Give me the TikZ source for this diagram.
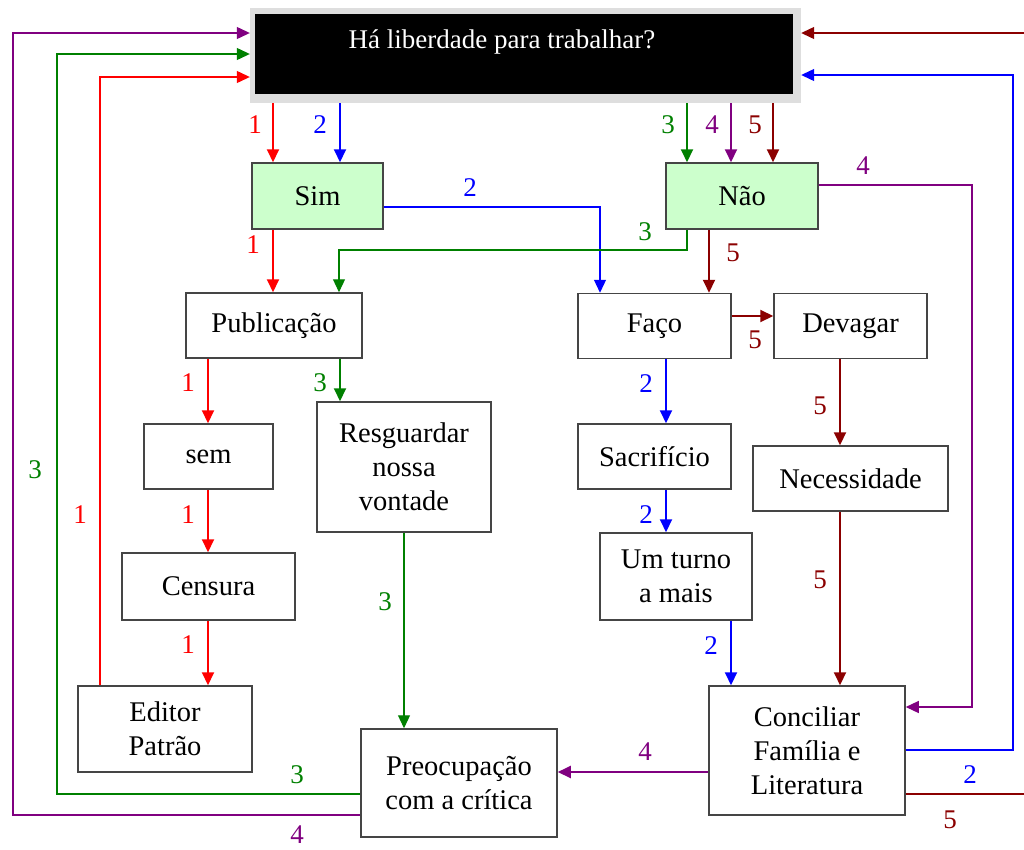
\documentclass[tikz,border=0pt]{standalone}
\usepackage{fontspec}
\setmainfont{Liberation Serif}
\usetikzlibrary{arrows.meta}

\definecolor{boxline}{HTML}{454545}
\definecolor{boxgreen}{HTML}{CCFFCC}
\definecolor{cred}{HTML}{FF0000}
\definecolor{cblue}{HTML}{0000FF}
\definecolor{cgreen}{HTML}{008000}
\definecolor{cpurple}{HTML}{800080}
\definecolor{cdark}{HTML}{8B0000}
\definecolor{frame}{HTML}{DEDEDE}

\begin{document}
\begin{tikzpicture}[x=1pt,y=-1pt,
  box/.style={draw=boxline, line width=1.5pt, fill=white, inner sep=0pt,
    align=center, font=\fontsize{28.5}{34}\selectfont},
  greenbox/.style={box, fill=boxgreen},
  arr/.style={line width=2pt, -{Triangle[length=13pt,width=12pt]}},
  wire/.style={line width=1.2pt},
  warr/.style={line width=1.2pt, -{Triangle[length=13pt,width=12pt]}},
  num/.style={font=\fontsize{27}{30}\selectfont, inner sep=0pt}]

\useasboundingbox (0,0) rectangle (1024,849);

% question box: grey frame with black panel
\node[fill=frame, inner sep=0pt, minimum width=551pt, minimum height=95pt] (title) at (525.5,55.5) {};
\fill[black] ([shift={(5,6)}]title.north west) rectangle ([shift={(-8,-9)}]title.south east);
\node[text=white, font=\fontsize{27}{30}\selectfont, inner sep=0pt] (titletext) at (502,42) {Há liberdade para trabalhar?};

% boxes
\node[greenbox, minimum width=131pt, minimum height=66pt] (sim) at (317.5,196) {Sim};
\node[greenbox, minimum width=152pt, minimum height=66pt] (nao) at (742,196) {Não};
\node[box, minimum width=176pt, minimum height=65pt] (pub) at (274,325.5) {Publicação};
\node[box, minimum width=153pt, minimum height=65pt] (faco) at (654.5,326) {Faço};
\node[box, minimum width=153pt, minimum height=65pt] (devagar) at (850.5,326) {Devagar};
\node[box, minimum width=129pt, minimum height=65pt] (sem) at (208.5,456.5) {sem};
\node[box, minimum width=174pt, minimum height=130pt] (resg) at (404,467) {Resguardar\\nossa\\vontade};
\node[box, minimum width=153pt, minimum height=65pt] (sacr) at (654.5,456.5) {Sacrifício};
\node[box, minimum width=195pt, minimum height=65pt] (neces) at (850.5,478.5) {Necessidade};
\node[box, minimum width=173pt, minimum height=67pt] (censura) at (208.5,586.5) {Censura};
\node[box, minimum width=152pt, minimum height=87pt] (turno) at (676,576.5) {Um turno\\a mais};
\node[box, minimum width=174pt, minimum height=86pt] (editor) at (165,729) {Editor\\Patrão};
\node[box, minimum width=196pt, minimum height=129pt] (concil) at (807,750.5) {Conciliar\\Família e\\Literatura};
\node[box, minimum width=196pt, minimum height=108pt] (preoc) at (459,783) {Preocupação\\com a crítica};

% column and row guides for the connectors
\coordinate (x13) at (13,0);   \coordinate (x57) at (57,0);
\coordinate (x100) at (100,0); \coordinate (x208) at (208,0);
\coordinate (x273) at (273,0); \coordinate (x339) at (339,0);
\coordinate (x340) at (340,0); \coordinate (x404) at (404,0);
\coordinate (x600) at (600,0); \coordinate (x666) at (666,0);
\coordinate (x687) at (687,0); \coordinate (x709) at (709,0);
\coordinate (x731) at (731,0); \coordinate (x773) at (773,0);
\coordinate (x840) at (840,0); \coordinate (x972) at (972,0);
\coordinate (x1013) at (1013,0);
\coordinate (y33) at (0,33);   \coordinate (y54) at (0,54);
\coordinate (y75) at (0,75);   \coordinate (y77) at (0,77);
\coordinate (y185) at (0,185); \coordinate (y207) at (0,207);
\coordinate (y250) at (0,250); \coordinate (y316) at (0,316);
\coordinate (y707) at (0,707); \coordinate (y750) at (0,750);
\coordinate (y772) at (0,772); \coordinate (y794) at (0,794);
\coordinate (y815) at (0,815);
\coordinate (edgeA) at (1024,33);
\coordinate (edgeB) at (1024,794);

% path 1 (red)
\draw[arr, cred] (title.south -| x273) -- (sim.north -| x273);
\draw[arr, cred] (sim.south -| x273) -- (pub.north -| x273);
\draw[arr, cred] (pub.south -| x208) -- (sem.north -| x208);
\draw[arr, cred] (sem.south -| x208) -- (censura.north -| x208);
\draw[arr, cred] (censura.south -| x208) -- (editor.north -| x208);
\draw[warr, cred] (editor.north -| x100) -- (x100 |- y77) -- (title.west |- y77);

% path 2 (blue)
\draw[arr, cblue] (title.south -| x340) -- (sim.north -| x340);
\draw[warr, cblue] (sim.east |- y207) -- (x600 |- y207) -- (faco.north -| x600);
\draw[arr, cblue] (faco.south -| x666) -- (sacr.north -| x666);
\draw[arr, cblue] (sacr.south -| x666) -- (turno.north -| x666);
\draw[arr, cblue] (turno.south -| x731) -- (concil.north -| x731);
\draw[warr, cblue] (concil.east |- y750) -- (x1013 |- y750) -- (x1013 |- y75) -- (title.east |- y75);

% path 3 (green)
\draw[arr, cgreen] (title.south -| x687) -- (nao.north -| x687);
\draw[warr, cgreen] (nao.south -| x687) -- (x687 |- y250) -- (x339 |- y250) -- (pub.north -| x339);
\draw[arr, cgreen] (pub.south -| x340) -- (resg.north -| x340);
\draw[warr, cgreen] (resg.south -| x404) -- (preoc.north -| x404);
\draw[warr, cgreen] (preoc.west |- y794) -- (x57 |- y794) -- (x57 |- y54) -- (title.west |- y54);

% path 4 (purple)
\draw[arr, cpurple] (title.south -| x731) -- (nao.north -| x731);
\draw[warr, cpurple] (nao.east |- y185) -- (x972 |- y185) -- (x972 |- y707) -- (concil.east |- y707);
\draw[arr, cpurple] (concil.west |- y772) -- (preoc.east |- y772);
\draw[warr, cpurple] (preoc.west |- y815) -- (x13 |- y815) -- (x13 |- y33) -- (title.west |- y33);

% path 5 (dark red)
\draw[arr, cdark] (title.south -| x773) -- (nao.north -| x773);
\draw[arr, cdark] (nao.south -| x709) -- (faco.north -| x709);
\draw[arr, cdark] (faco.east |- y316) -- (devagar.west |- y316);
\draw[arr, cdark] (devagar.south -| x840) -- (neces.north -| x840);
\draw[arr, cdark] (neces.south -| x840) -- (concil.north -| x840);
\draw[wire, cdark] (concil.east |- y794) -- (edgeB);
\draw[warr, cdark] (edgeA) -- (title.east |- y33);

% path numbers
\node[num, text=cred] (n1a) at (255,125) {1};
\node[num, text=cblue] (n2a) at (320,125) {2};
\node[num, text=cgreen] (n3a) at (668,125) {3};
\node[num, text=cpurple] (n4a) at (712,125) {4};
\node[num, text=cdark] (n5a) at (755,125) {5};
\node[num, text=cblue] (n2b) at (470,188) {2};
\node[num, text=cgreen] (n3b) at (645,232) {3};
\node[num, text=cred] (n1b) at (253,245) {1};
\node[num, text=cdark] (n5b) at (733,253) {5};
\node[num, text=cpurple] (n4b) at (863,166) {4};
\node[num, text=cdark] (n5c) at (755,340) {5};
\node[num, text=cblue] (n2c) at (646,384) {2};
\node[num, text=cdark] (n5d) at (820,406) {5};
\node[num, text=cblue] (n2d) at (646,515) {2};
\node[num, text=cblue] (n2e) at (711,646) {2};
\node[num, text=cdark] (n5e) at (820,580) {5};
\node[num, text=cred] (n1c) at (188,383) {1};
\node[num, text=cgreen] (n3c) at (320,383) {3};
\node[num, text=cred] (n1d) at (188,515) {1};
\node[num, text=cred] (n1e) at (188,645) {1};
\node[num, text=cred] (n1f) at (80,515) {1};
\node[num, text=cgreen] (n3d) at (385,602) {3};
\node[num, text=cgreen] (n3e) at (35,470) {3};
\node[num, text=cgreen] (n3f) at (297,775) {3};
\node[num, text=cpurple] (n4c) at (297,835) {4};
\node[num, text=cpurple] (n4d) at (645,752) {4};
\node[num, text=cblue] (n2f) at (970,775) {2};
\node[num, text=cdark] (n5f) at (950,820) {5};

\end{tikzpicture}
\end{document}
